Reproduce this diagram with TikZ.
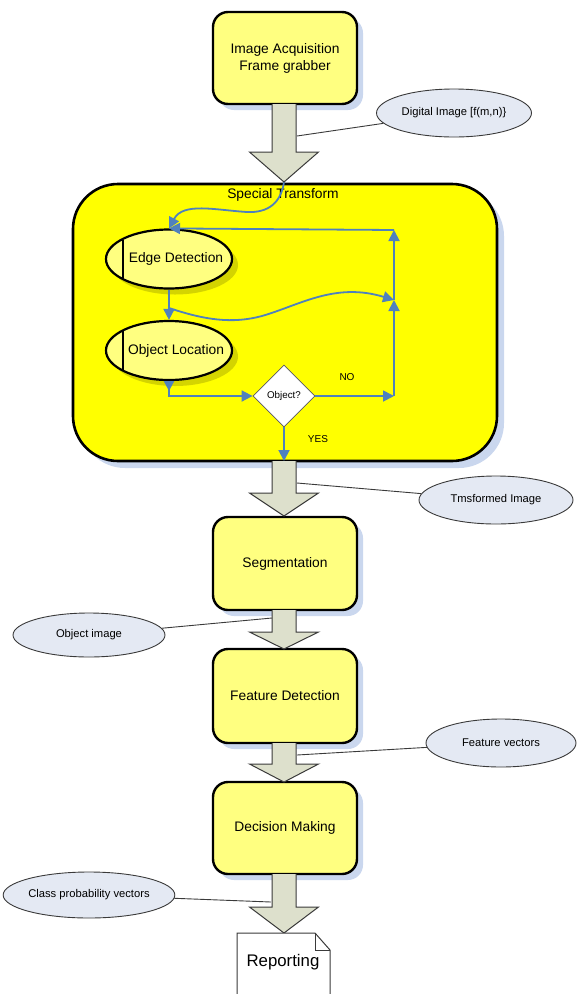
\documentclass[tikz,border=0pt]{standalone}
\usepackage{fontspec}
\setmainfont{Liberation Sans}
\usetikzlibrary{shapes.geometric,arrows.meta,shadows}
\definecolor{boxyellow}{HTML}{FFFF80}
\definecolor{styellow}{HTML}{FFFF00}
\definecolor{shblue}{HTML}{CAD7EE}
\definecolor{shyellow}{HTML}{D4D400}
\definecolor{callfill}{HTML}{E4E9F3}
\definecolor{flowblue}{HTML}{4F81BD}
\definecolor{arrfill}{HTML}{DDE0CC}
\definecolor{edgegray}{HTML}{3A3A3A}
\tikzset{
  procbox/.style={draw=black, line width=2.4pt, fill=boxyellow, rounded corners=15pt,
    minimum width=144pt, align=center, font=\fontsize{13.8}{17}\selectfont,
    drop shadow={fill=shblue, opacity=1, shadow xshift=6pt, shadow yshift=-6pt}},
  stbox/.style={draw=black, line width=2.6pt, fill=styellow, rounded corners=45pt,
    minimum width=424pt, minimum height=277pt,
    drop shadow={fill=shblue, opacity=1, shadow xshift=7pt, shadow yshift=-7pt}},
  ovalbox/.style={ellipse, draw=black, line width=2.2pt, fill=boxyellow,
    minimum width=126pt, minimum height=59pt, inner sep=0pt,
    drop shadow={fill=shyellow, opacity=1, shadow xshift=6pt, shadow yshift=-6pt}},
  bigtext/.style={font=\fontsize{13.8}{17}\selectfont, inner sep=0pt},
  smalltext/.style={font=\fontsize{10}{12}\selectfont, inner sep=0pt},
  callout/.style={ellipse, draw=edgegray, line width=0.9pt, fill=callfill, inner sep=0pt,
    font=\fontsize{11.2}{13}\selectfont},
  callline/.style={draw=edgegray, line width=0.9pt},
  bluearr/.style={draw=flowblue, line width=1.8pt, -{Triangle[length=11pt,width=11pt]}},
  arrbody/.style={fill=arrfill},
  arroutline/.style={draw=edgegray, line width=1pt, line join=miter},
  docshape/.style={draw=edgegray, line width=1pt, fill=white, line join=miter}
}
\newcommand{\fatarrow}[3]{%
  \fill[arrbody] (272,#1) -- (272,#2) -- (249.5,#2) -- (284,#3) -- (318.5,#2) -- (296,#2) -- (296,#1) -- cycle;
  \draw[arroutline] (272,#1) -- (272,#2) -- (249.5,#2) -- (284,#3) -- (318.5,#2) -- (296,#2) -- (296,#1);}
\begin{document}
\begin{tikzpicture}[x=1pt,y=-1pt]
\path[use as bounding box] (0,0) rectangle (578,994);
\clip (0,0) rectangle (578,994);

% main process boxes
\node[procbox, minimum height=92pt] (acq) at (285,58) {Image Acquisition\\Frame grabber};
\node[stbox] (st) at (285,322.5) {};
\node[bigtext] (sttitle) at (283,195) {Special Transform};
\node[procbox, minimum height=93pt] (seg) at (285,563.5) {Segmentation};
\node[procbox, minimum height=94pt] (feat) at (285,696) {Feature Detection};
\node[procbox, minimum height=92pt] (dec) at (285,828) {Decision Making};

% inner flow
\node[ovalbox] (ed) at (169,259) {};
\draw[line width=2pt] (123,239.5) -- (123,278.5);
\node[bigtext] (edt) at (176,259) {Edge Detection};
\node[ovalbox] (ol) at (169,350.5) {};
\draw[line width=2pt] (123,330.5) -- (123,370.5);
\node[bigtext] (olt) at (176,350.5) {Object Location};
\node[diamond, draw=gray!70!black, fill=white, line width=0.8pt, minimum width=62pt,
  minimum height=62pt, inner sep=0pt, font=\fontsize{9.8}{12}\selectfont] (dia) at (284,396) {Object?};

\coordinate (t1) at (284,182);
\coordinate (r1) at (394,396);
\coordinate (r2) at (394,300);
\coordinate (r3) at (394,230);
\coordinate (ws) at (169,308);
\coordinate (yesend) at (284,461);

\draw[bluearr] (t1) .. controls (281,203) and (268,213) .. (247,212)
  .. controls (215,210) and (183,202) .. (ed.north);
\draw[bluearr] (r3) -- (ed.north);
\draw[bluearr] (ed.south) -- (ol.north);
\draw[bluearr] (ws) .. controls (205,320) and (232,324) .. (262,316)
  .. controls (300,305) and (335,282) .. (r2);
\draw[draw=flowblue, line width=1.8pt, {Triangle[reversed,length=10pt,width=10pt]}-{Triangle[length=11pt,width=11pt]}]
  (ol.south) |- (dia.west);
\draw[bluearr] (dia.east) -- (r1);
\draw[bluearr] (r1) -- (r2);
\draw[bluearr] (r2) -- (r3);
\draw[bluearr] (dia.south) -- (yesend);
\node[smalltext] (no) at (347,377) {NO};
\node[smalltext] (yes) at (318,439) {YES};

% fat arrows
\fatarrow{104}{152}{182}
\fatarrow{461}{493}{516}
\fatarrow{610}{632}{649}
\fatarrow{743}{764}{782}
\fatarrow{874}{907}{933}

% reporting document
\filldraw[docshape] (237,998) -- (237,933) -- (315,933) -- (330,950) -- (330,998) -- cycle;
\draw[docshape, fill=none] (315,933) -- (315,950) -- (330,950);
\node[font=\fontsize{16.8}{20}\selectfont, inner sep=0pt] (rep) at (283,962) {Reporting};

% callouts
\node[callout, minimum width=155pt, minimum height=48pt] (dig) at (454,113) {Digital Image [f(m,n)\}};
\node[callout, minimum width=154pt, minimum height=48pt] (tr) at (496,500) {Tmsformed Image};
\node[callout, minimum width=152pt, minimum height=44pt] (oi) at (89,635) {Object image};
\node[callout, minimum width=150pt, minimum height=48pt] (fv) at (501,743) {Feature vectors};
\node[callout, minimum width=152pt, minimum height=46pt] (cp) at (89,895) {Class probability vectors};
\coordinate (c1) at (297,136);
\coordinate (c2) at (297,483);
\coordinate (c3) at (272,618);
\coordinate (c4) at (297,755);
\coordinate (c5) at (271,902);
\draw[callline] (c1) -- (dig);
\draw[callline] (c2) -- (tr);
\draw[callline] (c3) -- (oi);
\draw[callline] (c4) -- (fv);
\draw[callline] (c5) -- (cp);
\end{tikzpicture}
\end{document}
